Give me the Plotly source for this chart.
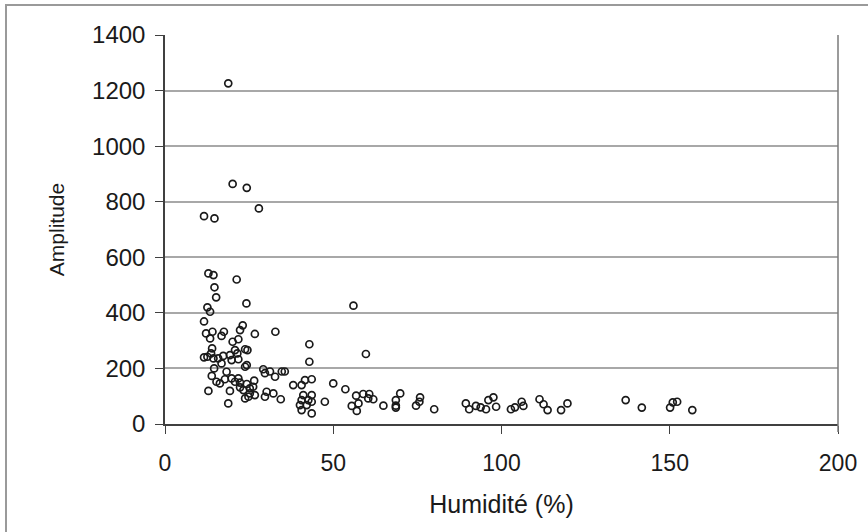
import plotly.graph_objects as go

# Humidité (%) and Amplitude values
humidite = [
    18.8, 20.1, 24.3, 27.9, 11.6, 14.7,
    12.9, 14.4, 14.7, 21.3, 15.2, 24.2, 12.6, 13.4, 11.6, 23.1, 22.3, 12.2,
    14.1, 13.4, 17.5, 16.8, 21.8, 20.1, 26.7, 32.8, 42.9, 42.9, 14.0, 13.7,
    11.6, 12.6, 14.4, 15.8, 17.3, 19.3, 20.8, 21.5, 23.8, 24.5, 16.8, 19.8,
    21.8, 23.8, 24.3, 14.6, 18.3, 13.9, 15.3, 16.3, 17.8, 19.8, 21.8, 20.8,
    22.3, 24.3, 26.5, 29.2, 29.7, 31.2, 32.7, 34.7, 35.6, 12.9, 19.3, 22.3,
    23.3, 25.2, 26.2, 25.2, 23.8, 24.8, 26.7, 18.8, 29.7, 30.2, 32.2, 34.4,
    38.1, 40.6, 41.6, 43.6, 41.1, 43.6, 40.6, 42.6, 40.1, 42.1, 40.6, 43.6,
    43.6, 47.5, 50.0, 53.6,
    56.0, 59.7, 56.8, 55.5, 57.0, 57.5, 58.9, 60.7, 60.4, 61.9, 64.9, 68.6,
    68.6, 68.6, 69.9, 74.6, 75.6, 75.8, 80.0, 89.4, 90.4, 92.4, 93.8, 95.4,
    96.1, 97.6, 98.4, 102.8, 104.0, 106.0, 106.5, 111.3, 112.5, 113.7, 117.7,
    119.6, 136.9, 141.7, 150.1, 150.9, 152.2, 156.7,
]
amplitude = [
    1226, 864, 850, 776, 748, 740,
    542, 536, 492, 520, 456, 434, 420, 404, 369, 355, 338, 326,
    332, 308, 332, 317, 305, 296, 324, 332, 287, 224, 272, 254,
    240, 242, 236, 236, 245, 248, 266, 254, 269, 266, 218, 230,
    233, 206, 212, 200, 188, 173, 152, 146, 161, 164, 164, 152,
    149, 144, 156, 197, 183, 189, 170, 189, 189, 119, 119, 132,
    122, 128, 134, 110, 92, 98, 104, 74, 98, 116, 110, 89,
    140, 140, 158, 161, 104, 104, 86, 86, 68, 68, 50, 38,
    80, 80, 146, 125,
    426, 252, 102, 65, 47, 74, 108, 108, 92, 89, 66, 86,
    66, 59, 110, 66, 80, 96, 53, 74, 53, 65, 60, 53,
    86, 96, 62, 53, 60, 80, 65, 89, 71, 50, 50,
    74, 86, 59, 59, 78, 80, 50,
]

x_ticks = [0, 50, 100, 150, 200]
y_ticks = [0, 200, 400, 600, 800, 1000, 1200, 1400]

FONT = "Liberation Sans, Arial, sans-serif"

fig = go.Figure()
fig.add_trace(go.Scatter(
    x=humidite, y=amplitude, mode="markers",
    marker=dict(symbol="circle-open", size=7, color="#1a1a1a",
                line=dict(width=1.7, color="#1a1a1a")),
    showlegend=False, hoverinfo="x+y",
))

fig.update_layout(
    width=868, height=532,
    margin=dict(l=165, r=30, t=35, b=108),
    paper_bgcolor="white", plot_bgcolor="white",
    font=dict(family=FONT, size=23, color="#1a1a1a"),
    xaxis=dict(
        range=[0, 200], tickvals=x_ticks, ticktext=[str(v) for v in x_ticks],
        showgrid=False, zeroline=False,
        showline=True, linecolor="#404040", linewidth=1.5,
        ticks="outside", ticklen=8, tickwidth=1.2, tickcolor="#404040",
        tickfont=dict(size=23),
        ticklabelstandoff=10,
        title=dict(text="Humidité (%)", standoff=20, font=dict(size=25)),
    ),
    yaxis=dict(
        range=[0, 1400], tickvals=y_ticks, ticktext=[str(v) for v in y_ticks],
        showgrid=True, gridcolor="#a8a8a8", gridwidth=1.5,
        zeroline=False,
        showline=True, linecolor="#404040", linewidth=1.5, mirror=False,
        ticks="outside", ticklen=8, tickwidth=1.2, tickcolor="#404040",
        tickfont=dict(size=24),
        ticklabelstandoff=5,
        title=dict(text="Amplitude", standoff=22, font=dict(size=21)),
    ),
    shapes=[
        dict(type="rect", xref="paper", yref="paper",
             x0=-159 / 673, x1=1.2, y0=-0.35, y1=1 + 30 / 389,
             line=dict(color="#9a9a9a", width=2), fillcolor="rgba(0,0,0,0)",
             layer="below"),
        dict(type="line", xref="paper", yref="paper",
             x0=1, x1=1, y0=-8 / 389, y1=1,
             line=dict(color="#7a7a7a", width=1.5)),
    ],
)

fig.write_html("out.html", config={"displayModeBar": False},
               post_script="document.body.style.margin='0';")
